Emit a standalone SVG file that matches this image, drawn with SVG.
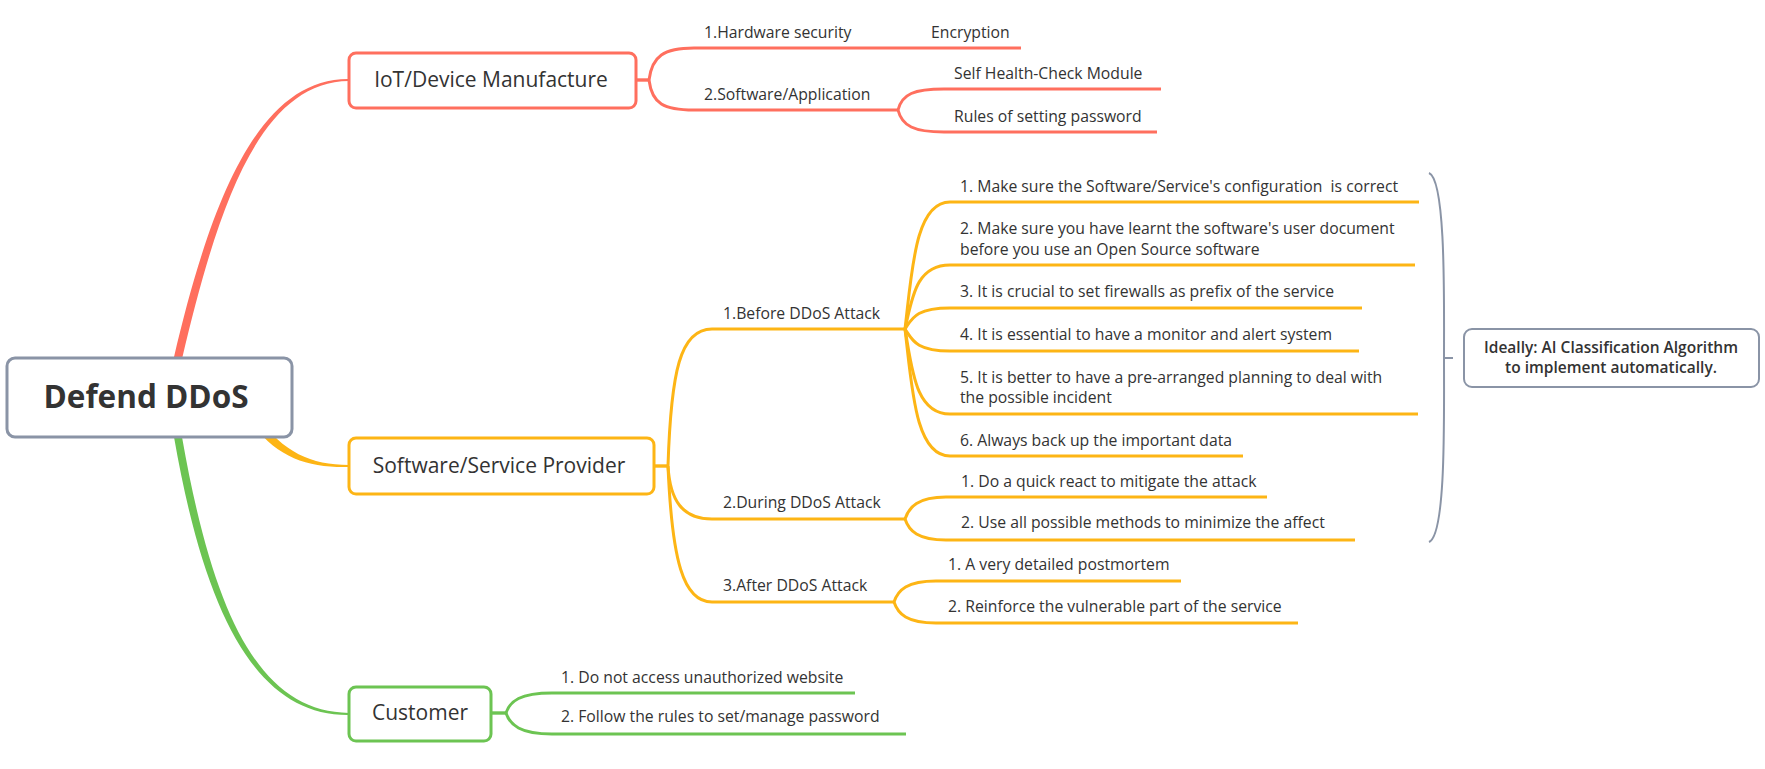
<svg xmlns="http://www.w3.org/2000/svg" width="1765" height="769" viewBox="0 0 1765 769">
<style>
text{font-family:"Open Sans","Noto Sans","Liberation Sans",sans-serif;fill:#333333;white-space:pre}
.t3{font-size:15.75px}
.t2{font-size:21px;text-anchor:middle}
.box{fill:#ffffff;stroke-width:3}
.ln{fill:none;stroke-width:3;stroke-linecap:butt}
.red{stroke:#FF6F5E}
.yel{stroke:#FDB515}
.grn{stroke:#6CC452}
.gry{stroke:#8A94A6}
</style>
<g id="connectors">
  <path d="M176,370 L174,357 C211,199 259,78 349,79 L349,81 C261,82 219,201 182,359 L180,370 Z" fill="#FF6F5E"/>
  <path d="M176,420 L174,437 C206,621 259,716 349,715 L349,713 C261,712 214,619 182,437 L180,420 Z" fill="#6CC452"/>
  <path d="M245,408 L258,417 C283,452 311,465 349,465 L349,467 C309,468 277,458 252,423 L240,412 Z" fill="#FDB515"/>
  <!-- IoT branch -->
  <g class="ln red">
    <path d="M636,80 L649,80" stroke-width="3.4"/>
    <path d="M649,80 C652,56 664,48 694,48 L1021,48"/>
    <path d="M649,80 C652,104 664,110 694,110 L898,110"/>
    <path d="M898,110 C902,94 914,89 944,89 L1161,89"/>
    <path d="M898,110 C902,126 914,132 944,132 L1157,132"/>
  </g>
  <!-- Software branch -->
  <g class="ln yel">
    <path d="M654,466 L668,466" stroke-width="3.4"/>
    <path d="M668,466 C671,372 680,329 712,329 L905,329"/>
    <path d="M668,466 C670,500 682,519 712,519 L905,519"/>
    <path d="M668,466 C672,560 683,602 712,602 L894,602"/>
    <path d="M905,329 C912,271 915,202 950,202 L1419,202"/>
    <path d="M905,329 C912,300 915,265 950,265 L1415,265"/>
    <path d="M905,329 C912,319 915,308 950,308 L1362,308"/>
    <path d="M905,329 C912,339 915,351 950,351 L1359,351"/>
    <path d="M905,329 C912,368 915,414 950,414 L1418,414"/>
    <path d="M905,329 C912,387 915,456 950,456 L1243,456"/>
    <path d="M905,519 C909,507 918,497 946,497 L1267,497"/>
    <path d="M905,519 C909,531 918,540 946,540 L1355,540"/>
    <path d="M894,602 C898,590 907,581 936,581 L1181,581"/>
    <path d="M894,602 C898,614 907,623 936,623 L1298,623"/>
  </g>
  <!-- Customer branch -->
  <g class="ln grn">
    <path d="M491,713 L506,713" stroke-width="3.4"/>
    <path d="M506,713 C510,701 520,693 552,693 L855,693"/>
    <path d="M506,713 C510,725 520,734 552,734 L906,734"/>
  </g>
  <!-- summary brace -->
  <g fill="none" stroke="#8A94A6" stroke-width="2">
    <path d="M1429,173 C1446,180 1444,300 1444,358 C1444,420 1446,535 1429,542"/>
    <path d="M1444,358 L1453,358"/>
  </g>
</g>
<g id="root">
  <rect class="box gry" x="7" y="358" width="285" height="79" rx="8"/>
  <text x="146" y="408" style="font-size:31.5px;font-weight:700;text-anchor:middle">Defend DDoS</text>
</g>
<g id="iot">
  <rect class="box red" x="349" y="53" width="287" height="55" rx="7"/>
  <text class="t2" x="491" y="87">IoT/Device Manufacture</text>
</g>
<g id="iot-hw"><text class="t3" x="704" y="38">1.Hardware security</text></g>
<g id="iot-enc"><text class="t3" x="931" y="38">Encryption</text></g>
<g id="iot-sw"><text class="t3" x="704" y="100">2.Software/Application</text></g>
<g id="iot-health"><text class="t3" x="954" y="79">Self Health-Check Module</text></g>
<g id="iot-pwd"><text class="t3" x="954" y="122">Rules of setting password</text></g>
<g id="provider">
  <rect class="box yel" x="349" y="438" width="305" height="56" rx="7"/>
  <text class="t2" x="499" y="473">Software/Service Provider</text>
</g>
<g id="before"><text class="t3" x="723" y="319">1.Before DDoS Attack</text></g>
<g id="b1"><text class="t3" x="960" y="192">1. Make sure the Software/Service's configuration  is correct</text></g>
<g id="b2"><text class="t3" x="960" y="234">2. Make sure you have learnt the software's user document</text><text class="t3" x="960" y="255">before you use an Open Source software</text></g>
<g id="b3"><text class="t3" x="960" y="297">3. It is crucial to set firewalls as prefix of the service</text></g>
<g id="b4"><text class="t3" x="960" y="340">4. It is essential to have a monitor and alert system</text></g>
<g id="b5"><text class="t3" x="960" y="383">5. It is better to have a pre-arranged planning to deal with</text><text class="t3" x="960" y="403">the possible incident</text></g>
<g id="b6"><text class="t3" x="960" y="446">6. Always back up the important data</text></g>
<g id="during"><text class="t3" x="723" y="508">2.During DDoS Attack</text></g>
<g id="d1"><text class="t3" x="961" y="487">1. Do a quick react to mitigate the attack</text></g>
<g id="d2"><text class="t3" x="961" y="528">2. Use all possible methods to minimize the affect</text></g>
<g id="after"><text class="t3" x="723" y="591">3.After DDoS Attack</text></g>
<g id="a1"><text class="t3" x="948" y="570">1. A very detailed postmortem</text></g>
<g id="a2"><text class="t3" x="948" y="612">2. Reinforce the vulnerable part of the service</text></g>
<g id="customer">
  <rect class="box grn" x="349" y="687" width="142" height="54" rx="7"/>
  <text class="t2" x="420" y="720">Customer</text>
</g>
<g id="c1"><text class="t3" x="561" y="683">1. Do not access unauthorized website</text></g>
<g id="c2"><text class="t3" x="561" y="722">2. Follow the rules to set/manage password</text></g>
<g id="summary">
  <rect x="1464" y="329" width="295" height="58" rx="8" fill="#ffffff" stroke="#8A94A6" stroke-width="2"/>
  <text x="1611" y="353" style="font-size:15.5px;font-weight:600;text-anchor:middle">Ideally: AI Classification Algorithm</text>
  <text x="1611" y="373" style="font-size:15.5px;font-weight:600;text-anchor:middle">to implement automatically.</text>
</g>
</svg>
